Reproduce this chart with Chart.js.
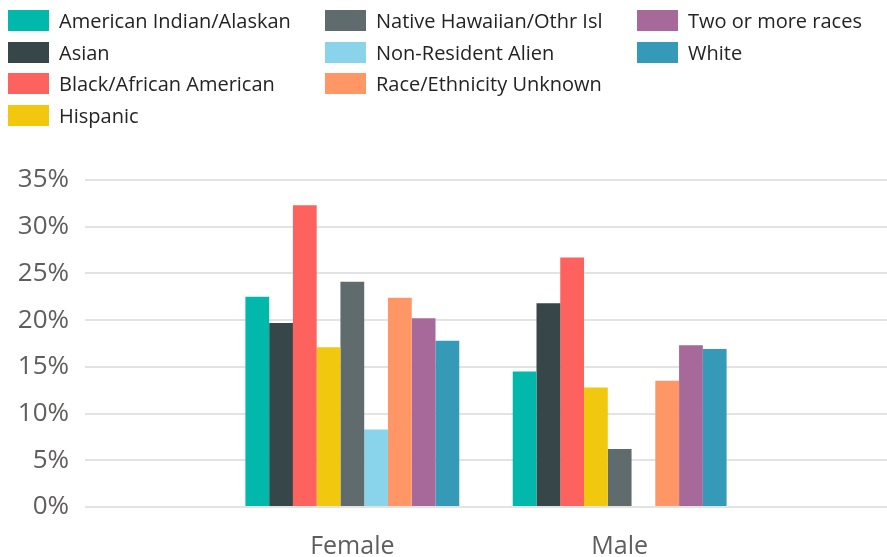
<!DOCTYPE html>
<html>
<head>
<meta charset="utf-8">
<script src="https://cdn.jsdelivr.net/npm/chart.js@4.4.1/dist/chart.umd.min.js"></script>
<style>
  html, body { margin: 0; padding: 0; background: #fff; }
  #wrap { position: relative; width: 887px; height: 557px; }
  #chart { position: absolute; left: 0; top: 0; }
  #legend { position: absolute; left: 8px; top: 5px; font-family: "Open Sans", sans-serif; font-size: 20px; color: #252423; }
  .col { position: absolute; top: 0; }
  .item { height: 31.5px; display: flex; align-items: center; white-space: nowrap; }
  .sw { width: 41px; height: 21px; margin-right: 10px; flex: none; }
</style>
</head>
<body>
<div id="wrap">
  <canvas id="chart" width="887" height="557"></canvas>
  <div id="legend"></div>
</div>
<script>
const genders = ["Female", "Male"];
const races = [
  "American Indian/Alaskan",
  "Asian",
  "Black/African American",
  "Hispanic",
  "Native Hawaiian/Othr Isl",
  "Non-Resident Alien",
  "Race/Ethnicity Unknown",
  "Two or more races",
  "White",
];
const raceColors = ["#01B8AA", "#374649", "#FD625E", "#F2C80F", "#5F6B6D", "#8AD4EB", "#FE9666", "#A66999", "#3599B8"];

// percent per race, [Female, Male]
const americanIndian = [22.5, 14.5];
const asian = [19.7, 21.8];
const black = [32.3, 26.7];
const hispanic = [17.1, 12.8];
const nativeHawaiian = [24.1, 6.2];
const nonResident = [8.3, null];
const unknownRace = [22.4, 13.5];
const twoOrMore = [20.2, 17.3];
const white = [17.8, 16.9];

const raceValues = [americanIndian, asian, black, hispanic, nativeHawaiian, nonResident, unknownRace, twoOrMore, white];
const yTicks = [0, 5, 10, 15, 20, 25, 30, 35];

// legend, filled column by column like the original
const legendCols = [[0, 1, 2, 3], [4, 5, 6], [7, 8]];
const colLeft = [0, 317, 629];
const legend = document.getElementById("legend");
legendCols.forEach((col, c) => {
  const div = document.createElement("div");
  div.className = "col";
  div.style.left = colLeft[c] + "px";
  col.forEach((i) => {
    const item = document.createElement("div");
    item.className = "item";
    item.innerHTML = `<span class="sw" style="background:${raceColors[i]}"></span><span>${races[i]}</span>`;
    div.appendChild(item);
  });
  legend.appendChild(div);
});

// one empty slot each side so the two groups sit in the middle
const labels = ["", ...genders, ""];

const datasets = races.map((name, i) => ({
  label: name,
  data: [null, ...raceValues[i], null],
  backgroundColor: raceColors[i],
  borderWidth: 0,
  categoryPercentage: 0.8,
  barPercentage: 1.0,
}));

new Chart(document.getElementById("chart").getContext("2d"), {
  type: "bar",
  data: { labels, datasets },
  options: {
    responsive: false,
    animation: false,
    layout: { padding: { top: 180, right: 0, left: 0, bottom: 0 } },
    plugins: { legend: { display: false }, tooltip: { enabled: false } },
    scales: {
      x: {
        offset: false,
        grid: { display: false },
        border: { display: false },
        ticks: { font: { family: "'Open Sans', sans-serif", size: 25 }, color: "#605E5C", padding: 17, maxRotation: 0, autoSkip: false },
        afterFit: (scale) => {
          scale.height = 50;
          scale.paddingLeft = 0;
          scale.paddingRight = 0;
        },
      },
      y: {
        min: 0,
        max: 35,
        afterBuildTicks: (scale) => { scale.ticks = yTicks.map((v) => ({ value: v })); },
        grid: { color: "#e3e3e3", lineWidth: 2, drawTicks: false },
        border: { display: false },
        ticks: { font: { family: "'Open Sans', sans-serif", size: 26 }, color: "#605E5C", padding: 16, callback: (v) => v + "%" },
        afterFit: (scale) => {
          scale.width = 85;
          scale.paddingTop = 0;
          scale.paddingBottom = 0;
        },
      },
    },
  },
});
</script>
</body>
</html>
